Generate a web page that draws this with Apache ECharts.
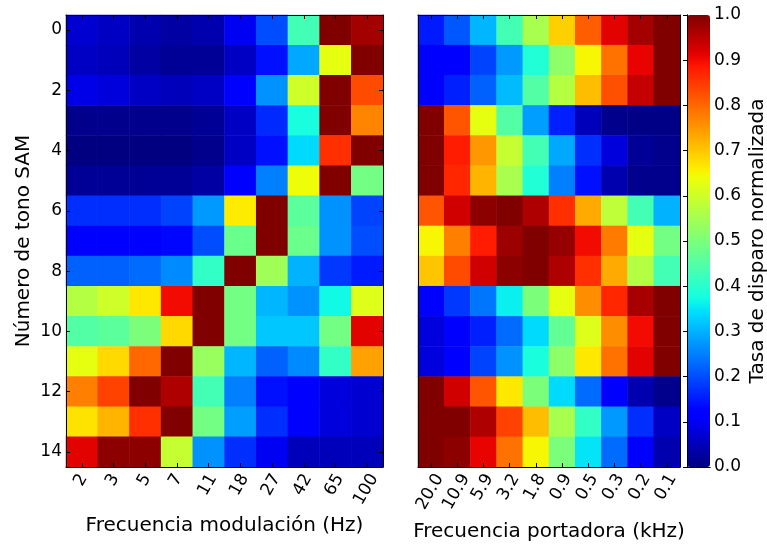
<!DOCTYPE html>
<html>
<head>
<meta charset="utf-8">
<script src="https://cdn.jsdelivr.net/npm/echarts@6/dist/echarts.min.js"></script>
<style>
  html, body { margin: 0; padding: 0; background: #fff; }
  #chart { width: 767px; height: 544px; }
</style>
</head>
<body>
<div id="chart"></div>
<script>
// SAM tone numbers (rows, top to bottom)
const toneNumbers = ['0','1','2','3','4','5','6','7','8','9','10','11','12','13','14'];

// Modulation frequencies (Hz), left panel columns
const modFreqLabels = ['2','3','5','7','11','18','27','42','65','100'];

// Carrier frequencies (kHz), right panel columns
const carrierLabels = ['20.0','10.9','5.9','3.2','1.8','0.9','0.5','0.3','0.2','0.1'];

// Normalized firing rate, one row per SAM tone, one value per modulation frequency
const modRates = [
  [0.07, 0.06, 0.04, 0.03, 0.04, 0.10, 0.20, 0.43, 1.00, 0.97],
  [0.06, 0.05, 0.03, 0.02, 0.02, 0.06, 0.14, 0.29, 0.63, 1.00],
  [0.09, 0.08, 0.06, 0.05, 0.06, 0.12, 0.27, 0.60, 1.00, 0.83],
  [0.01, 0.01, 0.01, 0.01, 0.02, 0.06, 0.165, 0.38, 1.00, 0.77],
  [0.00, 0.00, 0.00, 0.00, 0.01, 0.06, 0.14, 0.34, 0.86, 1.00],
  [0.02, 0.02, 0.02, 0.02, 0.03, 0.12, 0.25, 0.64, 1.00, 0.49],
  [0.17, 0.17, 0.17, 0.19, 0.275, 0.66, 1.00, 0.46, 0.27, 0.19],
  [0.12, 0.12, 0.12, 0.13, 0.20, 0.48, 1.00, 0.48, 0.27, 0.20],
  [0.22, 0.22, 0.23, 0.26, 0.41, 1.00, 0.545, 0.30, 0.18, 0.15],
  [0.57, 0.60, 0.665, 0.90, 1.00, 0.49, 0.305, 0.27, 0.37, 0.62],
  [0.45, 0.46, 0.50, 0.68, 1.00, 0.49, 0.32, 0.32, 0.49, 0.915],
  [0.63, 0.68, 0.80, 1.00, 0.535, 0.305, 0.22, 0.26, 0.41, 0.74],
  [0.775, 0.84, 1.00, 0.96, 0.43, 0.25, 0.14, 0.11, 0.08, 0.07],
  [0.67, 0.72, 0.86, 1.00, 0.49, 0.28, 0.17, 0.11, 0.08, 0.07],
  [0.915, 0.99, 0.99, 0.59, 0.27, 0.17, 0.10, 0.05, 0.05, 0.05]
];

// Normalized firing rate, one row per SAM tone, one value per carrier frequency
const carrierRates = [
  [0.15, 0.21, 0.305, 0.43, 0.555, 0.69, 0.81, 0.915, 0.97, 1.00],
  [0.11, 0.12, 0.19, 0.275, 0.39, 0.52, 0.65, 0.79, 0.91, 1.00],
  [0.12, 0.155, 0.22, 0.31, 0.45, 0.57, 0.71, 0.826, 0.94, 1.00],
  [1.00, 0.82, 0.63, 0.45, 0.28, 0.155, 0.05, 0.01, 0.005, 0.005],
  [1.00, 0.88, 0.75, 0.59, 0.43, 0.29, 0.17, 0.08, 0.02, 0.01],
  [1.00, 0.87, 0.72, 0.555, 0.39, 0.25, 0.14, 0.04, 0.01, 0.01],
  [0.82, 0.93, 0.99, 1.00, 0.96, 0.86, 0.73, 0.58, 0.43, 0.30],
  [0.65, 0.775, 0.88, 0.975, 1.00, 0.98, 0.90, 0.78, 0.63, 0.49],
  [0.70, 0.83, 0.93, 0.99, 1.00, 0.96, 0.86, 0.73, 0.57, 0.43],
  [0.12, 0.18, 0.24, 0.36, 0.50, 0.63, 0.76, 0.87, 0.965, 1.00],
  [0.08, 0.12, 0.155, 0.23, 0.34, 0.47, 0.62, 0.76, 0.90, 1.00],
  [0.08, 0.12, 0.19, 0.27, 0.38, 0.52, 0.665, 0.79, 0.915, 1.00],
  [1.00, 0.93, 0.82, 0.665, 0.50, 0.34, 0.23, 0.12, 0.04, 0.01],
  [1.00, 1.00, 0.96, 0.84, 0.71, 0.555, 0.41, 0.275, 0.17, 0.06],
  [1.00, 0.99, 0.91, 0.79, 0.65, 0.50, 0.35, 0.23, 0.12, 0.04]
];

const FONT = 'DejaVu Sans';
const TICK_SIZE = 17;
const TITLE_SIZE = 20;

// Jet colormap (piecewise linear channels), sampled into gradient stops
function piecewise(t, pts) {
  for (let i = 1; i < pts.length; i++) {
    if (t <= pts[i][0]) {
      const [x0, y0] = pts[i - 1], [x1, y1] = pts[i];
      return y0 + (y1 - y0) * (t - x0) / (x1 - x0);
    }
  }
  return pts[pts.length - 1][1];
}
function jet(t) {
  const r = piecewise(t, [[0, 0], [0.35, 0], [0.66, 1], [0.89, 1], [1, 0.5]]);
  const g = piecewise(t, [[0, 0], [0.125, 0], [0.375, 1], [0.64, 1], [0.91, 0], [1, 0]]);
  const b = piecewise(t, [[0, 0.5], [0.11, 1], [0.34, 1], [0.65, 0], [1, 0]]);
  const h = v => Math.round(v * 255).toString(16).padStart(2, '0');
  return '#' + h(r) + h(g) + h(b);
}
const jetStops = [];
for (let i = 0; i <= 64; i++) jetStops.push(jet(i / 64));

function toCells(matrix) {
  const out = [];
  matrix.forEach((row, y) => row.forEach((v, x) => out.push([x, y, v])));
  return out;
}

// Rotated (60°) tick labels: each label's box is centred under its tick,
// with its top edge just below the axis, using per-label padding.
const measure = document.createElement('canvas').getContext('2d');
measure.font = TICK_SIZE + 'px "' + FONT + '"';
function rotatedRich(labels) {
  const rich = {};
  const s = Math.sin(Math.PI / 3), c = Math.cos(Math.PI / 3);
  labels.forEach((txt, i) => {
    const w = measure.measureText(txt).width - 1.5;
    const hBox = w * s + 0.73 * TICK_SIZE * c;
    const dx = -1, dy = hBox / 2;
    const along = c * dx - s * dy;   // along the text direction
    const across = s * dx + c * dy;  // perpendicular to the text
    rich['t' + i] = {
      fontFamily: FONT, fontSize: TICK_SIZE, color: '#000',
      padding: [Math.max(0, 2 * across), Math.max(0, -2 * along),
                Math.max(0, -2 * across), Math.max(0, 2 * along)]
    };
  });
  return rich;
}

const frameLine = { show: true, lineStyle: { color: '#000', width: 1 } };
const innerTick = (interval) => ({
  show: true, inside: true, length: 4, alignWithLabel: true,
  interval: interval, lineStyle: { color: '#000', width: 1 }
});

const grids = [
  { left: 66, top: 15, width: 317, height: 452 },
  { left: 418, top: 15, width: 262, height: 452 },
  { left: 687, top: 15, width: 23, height: 452 }
].map(g => Object.assign({ containLabel: false, outerBoundsMode: 'none' }, g));

function bottomCategory(gridIndex, labels, name, nameGap) {
  return {
    type: 'category', gridIndex, position: 'bottom', data: labels, z: 10,
    boundaryGap: true, axisLine: frameLine, axisTick: innerTick(0), splitLine: { show: false },
    axisLabel: {
      interval: 0, rotate: 60, margin: 6, align: 'center', verticalAlign: 'middle',
      fontFamily: FONT, fontSize: TICK_SIZE, color: '#000',
      formatter: (v, i) => '{t' + i + '|' + v + '}',
      rich: rotatedRich(labels)
    },
    name, nameLocation: 'middle', nameGap, nameMoveOverlap: false,
    nameTextStyle: { fontFamily: FONT, fontSize: TITLE_SIZE, color: '#000' }
  };
}
function topCategory(gridIndex, labels) {
  return {
    type: 'category', gridIndex, position: 'top', data: labels, z: 10,
    boundaryGap: true, axisLine: frameLine, axisTick: innerTick(0),
    axisLabel: { show: false }, splitLine: { show: false }
  };
}
function sideCategory(gridIndex, position, withLabels, withTicks) {
  return {
    type: 'category', gridIndex, position, data: toneNumbers, inverse: true, z: 10,
    boundaryGap: true, axisLine: frameLine,
    axisTick: withTicks ? innerTick(1) : { show: false },
    axisLabel: withLabels ? {
      interval: 1, margin: 4, fontFamily: FONT, fontSize: TICK_SIZE, color: '#000'
    } : { show: false },
    splitLine: { show: false }
  };
}
function plainValue(gridIndex, position) {
  return {
    type: 'value', gridIndex, position, min: 0, max: 1, z: 10,
    axisLine: frameLine, axisTick: { show: false }, axisLabel: { show: false },
    splitLine: { show: false }
  };
}

const yLeft = sideCategory(0, 'left', true, true);
Object.assign(yLeft, {
  name: 'Número de tono SAM', nameLocation: 'middle', nameRotate: 90, nameGap: 32,
  nameMoveOverlap: false,
  nameTextStyle: { fontFamily: FONT, fontSize: TITLE_SIZE, color: '#000' }
});

const option = {
  animation: false,
  backgroundColor: '#fff',
  grid: grids,
  xAxis: [
    bottomCategory(0, modFreqLabels, 'Frecuencia modulación (Hz)', 49),
    topCategory(0, modFreqLabels),
    bottomCategory(1, carrierLabels, 'Frecuencia portadora (kHz)', 55),
    topCategory(1, carrierLabels),
    plainValue(2, 'bottom'),
    plainValue(2, 'top')
  ],
  yAxis: [
    yLeft,
    sideCategory(0, 'right', false, true),
    sideCategory(1, 'left', false, false),
    sideCategory(1, 'right', false, false),
    {
      type: 'value', gridIndex: 2, position: 'right', min: 0, max: 1, interval: 0.1, z: 10,
      axisLine: frameLine,
      axisTick: { show: true, inside: true, length: 4, lineStyle: { color: '#000' } },
      axisLabel: {
        margin: 4, fontFamily: FONT, fontSize: TICK_SIZE, color: '#000',
        formatter: v => v.toFixed(1)
      },
      splitLine: { show: false },
      name: 'Tasa de disparo normalizada', nameLocation: 'middle', nameRotate: 90, nameGap: 38,
      nameMoveOverlap: false,
      nameTextStyle: { fontFamily: FONT, fontSize: TITLE_SIZE, color: '#000' }
    },
    plainValue(2, 'left')
  ],
  visualMap: {
    type: 'continuous', min: 0, max: 1, seriesIndex: [0, 1],
    calculable: false, hoverLink: false, orient: 'vertical',
    left: 687, top: 15, itemWidth: 23, itemHeight: 452, padding: 0,
    inRange: { color: jetStops }
  },
  series: [
    {
      type: 'heatmap', xAxisIndex: 0, yAxisIndex: 0, data: toCells(modRates),
      itemStyle: { borderWidth: 0 }, emphasis: { disabled: true }, progressive: 0
    },
    {
      type: 'heatmap', xAxisIndex: 2, yAxisIndex: 2, data: toCells(carrierRates),
      itemStyle: { borderWidth: 0 }, emphasis: { disabled: true }, progressive: 0
    }
  ]
};

const chart = echarts.init(document.getElementById('chart'), null, { renderer: 'canvas' });
chart.setOption(option);
</script>
</body>
</html>
